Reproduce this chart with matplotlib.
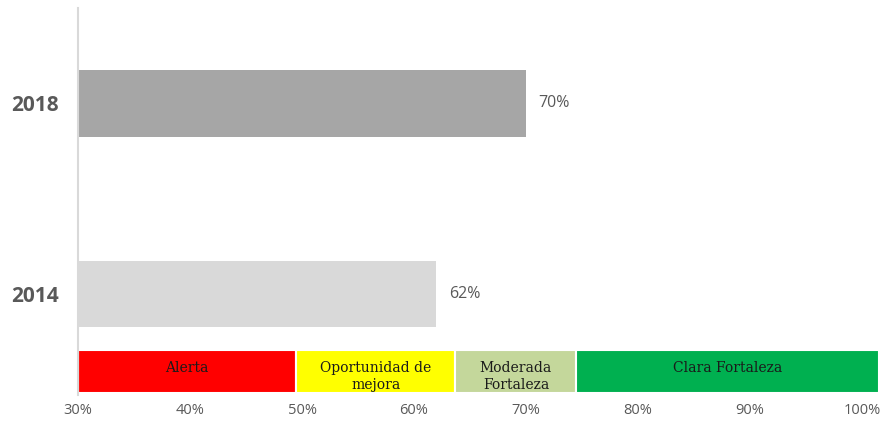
import matplotlib.pyplot as plt

years = ["2014", "2018"]
values = [62, 70]
bar_colors = ["#D9D9D9", "#A6A6A6"]

band_labels = ["Alerta", "Oportunidad de\nmejora", "Moderada\nFortaleza", "Clara Fortaleza"]
band_edges = [30, 49.5, 63.7, 74.5, 101.5]
band_colors = ["#FF0000", "#FFFF00", "#C4D79B", "#00B050"]

x_ticks = [30, 40, 50, 60, 70, 80, 90, 100]

fig = plt.figure(figsize=(8.85, 4.21), dpi=100)
ax = fig.add_axes([0.0881, 0.0618, 0.905, 0.919])

ypos = [0, 1]
ax.barh(ypos, [v - 30 for v in values], left=30, height=0.35, color=bar_colors)
for y, v in zip(ypos, values):
    ax.text(v + 1.1, y, f"{v}%", va="center", ha="left", fontsize=11.5,
            color="#595959", family="Open Sans")

# coloured band under the bars
band_y = -0.405
for i in range(len(band_labels)):
    left = band_edges[i]
    width = band_edges[i + 1] - left
    ax.barh(band_y, width, left=left, height=0.225, color=band_colors[i],
            edgecolor="white", linewidth=1.5)
    ax.text(left + width / 2, band_y + 0.055, band_labels[i], ha="center", va="top",
            fontsize=10, family="DejaVu Serif", color="#1a1a1a", linespacing=1.3)

ax.set_xlim(30, 101.5)
ax.set_ylim(-0.53, 1.5)
ax.set_xticks(x_ticks)
ax.set_xticklabels([f"{t}%" for t in x_ticks], fontsize=10.5, color="#595959", family="Open Sans")
ax.set_yticks(ypos)
ax.set_yticklabels(years, fontsize=15, fontweight="bold", color="#595959", family="Open Sans")
ax.tick_params(axis="both", length=0)
ax.tick_params(axis="y", pad=14)
ax.tick_params(axis="x", pad=6)

for s in ["top", "right", "bottom"]:
    ax.spines[s].set_visible(False)
ax.spines["left"].set_color("#D9D9D9")
ax.spines["left"].set_linewidth(1.5)

fig.savefig("out.png", dpi=100)
